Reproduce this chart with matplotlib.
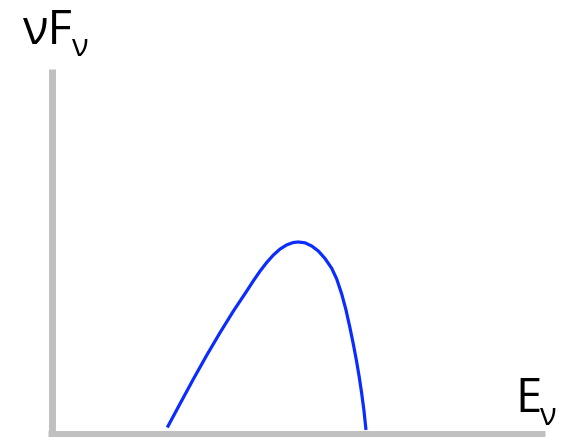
import matplotlib.pyplot as plt

# curve (E, nuFnu), arbitrary units, origin at the axes corner
energy = [115.8, 128.5, 141.8, 155.2, 168.5, 181.8, 195.2, 201.8, 208.5, 215.2,
          221.8, 228.5, 235.2, 241.8, 246.8, 253.5, 260.2, 266.8, 273.5, 280.2,
          285.2, 290.2, 294.5, 298.5, 302.0, 305.2, 307.8, 310.2, 312.5, 314.5]
flux = [6.5, 30.2, 54.8, 78.7, 101.3, 122.8, 142.9, 153.1, 162.8, 171.5,
        178.9, 184.9, 189.1, 191.5, 192.0, 191.2, 188, 183, 175.5, 165.7,
        155, 140, 124, 106, 89, 72, 56.5, 40.5, 23, 4]

plt.rcParams['font.family'] = ['Open Sans', 'DejaVu Sans']

fig = plt.figure(figsize=(5.68, 4.37), dpi=100)
ax = fig.add_axes([0, 0, 1, 1])
ax.set_xlim(-51.5, 516.5)
ax.set_ylim(-3, 434)

ax.plot(energy, flux, color='#0a2cff', lw=2.3, solid_capstyle='butt',
        solid_joinstyle='round')

for side in ['top', 'right']:
    ax.spines[side].set_visible(False)
ax.spines['left'].set_position(('data', 0))
ax.spines['bottom'].set_position(('data', 0))
ax.spines['left'].set_bounds(-3, 365)
ax.spines['bottom'].set_bounds(-3.5, 493)
for side in ['left', 'bottom']:
    ax.spines[side].set_color('#c0c0c0')
    ax.spines[side].set_linewidth(5)
    ax.spines[side].set_capstyle('butt')
ax.set_xticks([])
ax.set_yticks([])
ax.patch.set_alpha(0)

# axis labels
fig.text(23 / 568, 1 - 44 / 437, 'νF', fontsize=34, ha='left', va='baseline')
fig.text(72 / 568, 1 - 56 / 437, 'ν', fontsize=22, ha='left', va='baseline')
fig.text(515 / 568, 1 - 412 / 437, 'E', fontsize=34, ha='left', va='baseline')
fig.text(540 / 568, 1 - 425 / 437, 'ν', fontsize=22, ha='left', va='baseline')

fig.savefig('out.png', dpi=100)
